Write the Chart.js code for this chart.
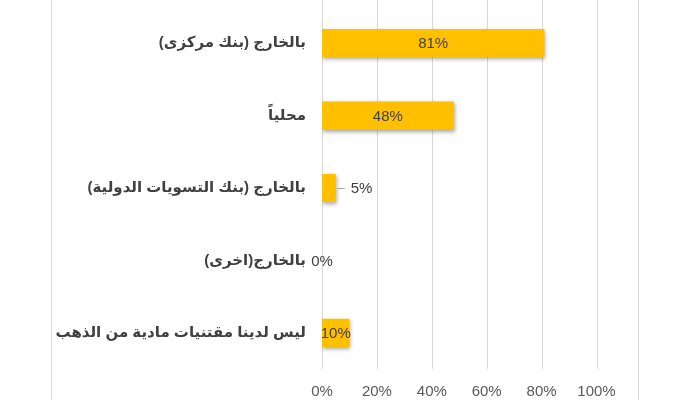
<!DOCTYPE html>
<html>
<head>
<meta charset="utf-8">
<script src="https://cdn.jsdelivr.net/npm/chart.js@4"></script>
<style>
  html, body { margin: 0; padding: 0; background: #ffffff; }
  #wrap { width: 690px; height: 400px; position: relative; }
</style>
</head>
<body>
<div id="wrap"><canvas id="c" dir="rtl" width="690" height="400"></canvas></div>
<script>
// Where gold holdings are kept (share of respondents, %)
const categories = [
  'بالخارج (بنك مركزى)',
  'محلياً',
  'بالخارج (بنك التسويات الدولية)',
  'بالخارج(اخرى)',
  'ليس لدينا مقتنيات مادية من الذهب'
];
const shares = [81, 48, 5, 0, 10];
const xTickValues = [0, 20, 40, 60, 80, 100];

const BAR_COLOR = '#FFC000';
const TEXT_COLOR = '#404040';
const GRID_COLOR = '#d9d9d9';

// Vertical gridlines running the full height above the axis, plus the outer frame lines
const gridPlugin = {
  id: 'fullGrid',
  beforeDatasetsDraw(chart) {
    const { ctx, chartArea } = chart;
    const x = chart.scales.x;
    ctx.save();
    ctx.strokeStyle = GRID_COLOR;
    ctx.lineWidth = 1;
    ctx.beginPath();
    xTickValues.forEach(v => {
      const px = Math.round(x.getPixelForValue(v)) + 0.5;
      ctx.moveTo(px, 0);
      ctx.lineTo(px, chartArea.bottom);
    });
    [chartArea.left - 271.5, chartArea.right + 41].forEach(f => {
      const fx = Math.round(f) + 0.5;
      ctx.moveTo(fx, 0);
      ctx.lineTo(fx, chart.height);
    });
    ctx.stroke();
    ctx.restore();
  }
};

// Soft drop shadow under the bars, then value labels
const barDecor = {
  id: 'barDecor',
  beforeDatasetsDraw(chart) {
    const ctx = chart.ctx;
    ctx.save();
    ctx.shadowColor = 'rgba(0,0,0,0.35)';
    ctx.shadowBlur = 4;
    ctx.shadowOffsetX = 1;
    ctx.shadowOffsetY = 2;
  },
  afterDatasetsDraw(chart) {
    const ctx = chart.ctx;
    ctx.restore();
    const meta = chart.getDatasetMeta(0);
    const data = chart.data.datasets[0].data;
    ctx.save();
    ctx.font = '15px "Liberation Sans", Arial, sans-serif';
    ctx.fillStyle = TEXT_COLOR;
    ctx.textBaseline = 'middle';
    meta.data.forEach((bar, i) => {
      const v = data[i];
      const text = v + '%';
      if (v >= 10) {
        ctx.textAlign = 'center';
        ctx.fillText(text, (bar.x + bar.base) / 2, bar.y + 1);
      } else if (v > 0) {
        ctx.strokeStyle = '#a6a6a6';
        ctx.lineWidth = 1;
        ctx.beginPath();
        ctx.moveTo(bar.x + 1, Math.round(bar.y) + 0.5);
        ctx.lineTo(bar.x + 9, Math.round(bar.y) + 0.5);
        ctx.stroke();
        ctx.textAlign = 'left';
        ctx.fillText(text, bar.x + 15, bar.y + 1);
      } else {
        ctx.textAlign = 'center';
        ctx.fillText(text, bar.base, bar.y + 1);
      }
    });
    ctx.restore();
  }
};

new Chart(document.getElementById('c'), {
  type: 'bar',
  data: {
    labels: categories,
    datasets: [{
      data: shares,
      backgroundColor: BAR_COLOR,
      borderWidth: 0,
      categoryPercentage: 1,
      barPercentage: 0.39
    }]
  },
  options: {
    indexAxis: 'y',
    responsive: false,
    animation: false,
    events: [],
    layout: { padding: { top: 7, right: 93.5, bottom: 0, left: 0 } },
    plugins: { legend: { display: false }, tooltip: { enabled: false } },
    scales: {
      x: {
        min: 0,
        max: 100,
        afterBuildTicks(scale) { scale.ticks = xTickValues.map(v => ({ value: v })); },
        afterFit(scale) { scale.height = 31; },
        grid: { display: false, drawTicks: false },
        border: { display: false },
        ticks: {
          padding: 14,
          color: '#595959',
          font: { family: '"Liberation Sans", Arial, sans-serif', size: 15 },
          callback: v => v + '%',
          maxRotation: 0
        }
      },
      y: {
        afterFit(scale) {
          scale.width = 322;
          scale.paddingTop = 0;
          scale.paddingBottom = 0;
        },
        grid: { display: false, drawTicks: false },
        border: { display: false },
        ticks: {
          padding: 16,
          color: TEXT_COLOR,
          font: { family: 'Arial, "Liberation Sans", "DejaVu Sans", sans-serif', size: 15, weight: 'bold' }
        }
      }
    }
  },
  plugins: [gridPlugin, barDecor]
});
</script>
</body>
</html>
